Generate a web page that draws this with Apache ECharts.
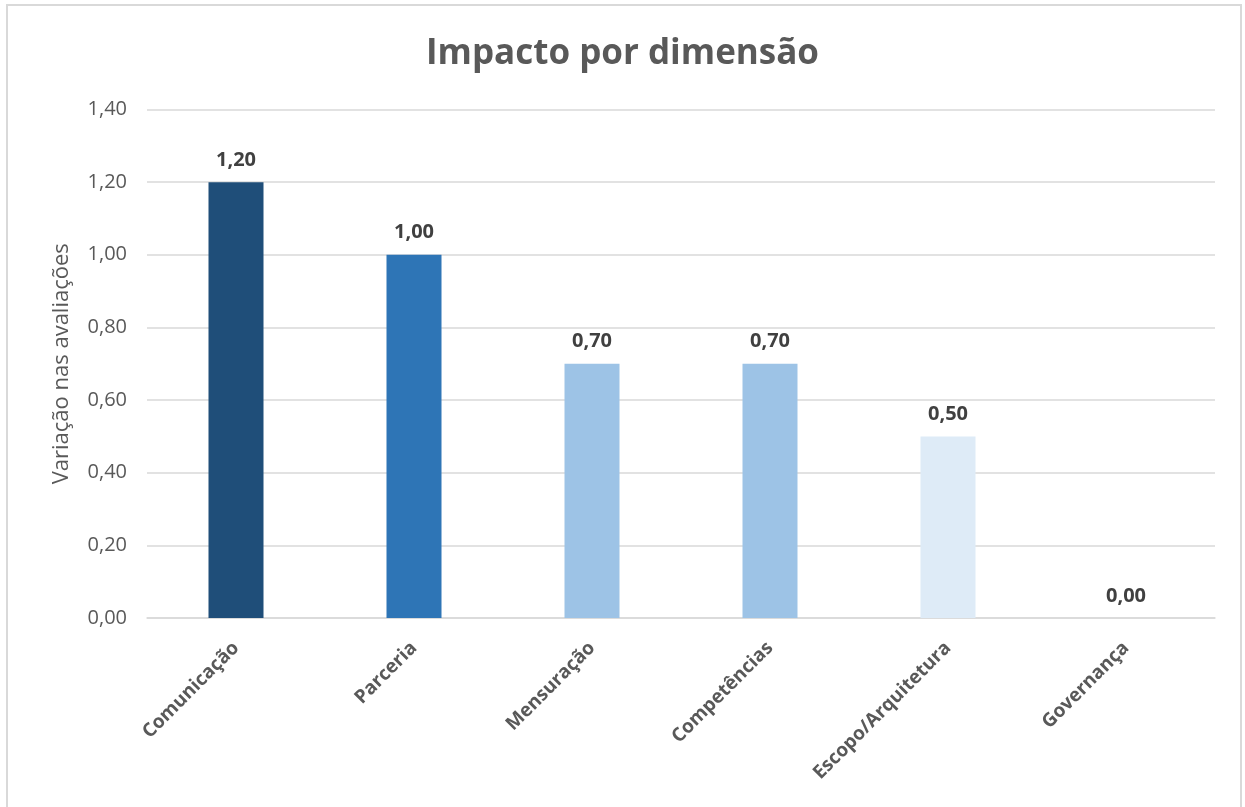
<!DOCTYPE html>
<html><head><meta charset="utf-8">
<script src="https://cdn.jsdelivr.net/npm/echarts@6/dist/echarts.min.js"></script>
<style>html,body{margin:0;padding:0;background:#fff}#c{width:1245px;height:807px}</style>
</head><body><div id="c"></div>
<script>
const categories = ['Comunicação','Parceria','Mensuração','Competências','Escopo/Arquitetura','Governança'];
const values = [1.20, 1.00, 0.70, 0.70, 0.50, 0.00];
const barColors = ['#1F4E79','#2E75B6','#9DC3E6','#9DC3E6','#DEEBF7','#DEEBF7'];
const yTicks = [0, 0.2, 0.4, 0.6, 0.8, 1.0, 1.2, 1.4];
const fmt = v => v.toFixed(2).replace('.', ',');
const chart = echarts.init(document.getElementById('c'), null, {renderer:'canvas'});
const font = '"Open Sans", "Noto Sans", sans-serif';
chart.setOption({
  animation:false,
  backgroundColor:'#fff',
  graphic:[{type:'rect',shape:{x:7,y:5,width:1234,height:830},style:{fill:'none',stroke:'#d9d9d9',lineWidth:2},silent:true}],
  title:{text:'Impacto por dimensão',left:'center',top:32,textStyle:{fontFamily:font,fontSize:35,fontWeight:'bold',color:'#595959'}},
  grid:{left:147,right:30,top:109.5,bottom:189,containLabel:false},
  xAxis:{type:'category',data:categories,
    axisLine:{lineStyle:{color:'#d9d9d9',width:1.5}},axisTick:{show:false},
    axisLabel:{rotate:45,interval:0,fontFamily:font,fontSize:19,fontWeight:'bold',color:'#595959',margin:27}},
  yAxis:{type:'value',min:yTicks[0],max:yTicks[yTicks.length-1],interval:0.2,
    name:'Variação nas avaliações',nameLocation:'middle',nameGap:74,
    nameTextStyle:{fontFamily:font,fontSize:22,color:'#595959'},
    axisLine:{show:false},axisTick:{show:false},
    splitLine:{lineStyle:{color:'#d9d9d9',width:1.5}},
    axisLabel:{formatter:fmt,fontFamily:font,fontSize:20,color:'#595959',margin:20}},
  series:[{type:'bar',barWidth:55,
    data:values.map((v,i)=>({value:v,itemStyle:{color:barColors[i]}})),
    label:{show:true,position:'top',distance:12,formatter:p=>fmt(p.value),fontFamily:font,fontSize:20,fontWeight:'bold',color:'#404040'}}]
});
</script></body></html>
